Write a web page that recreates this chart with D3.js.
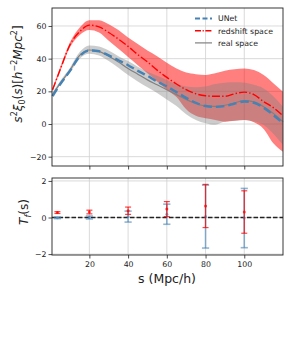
<!DOCTYPE html>
<html>
<head>
<meta charset="utf-8">
<script src="https://cdn.jsdelivr.net/npm/d3@7"></script>
<style>
  body { margin: 0; background: #fff; }
  text { font-family: "DejaVu Sans", sans-serif; fill: #222; }
  .grid line { stroke: #d0d0d0; stroke-width: 0.8; }
</style>
</head>
<body>
<div id="chart"></div>
<script>
// separation bins (Mpc/h)
const sGrid = [1, 5, 10, 15, 20, 25, 30, 35, 40, 45, 50, 55, 60, 65, 70, 75, 80, 85, 90, 95, 100, 105, 110, 115, 120];

// real space: mean and band
const realMean = [18, 25, 33, 42, 45.3, 44.5, 41.5, 38, 34, 30.5, 27, 24, 21, 18, 15, 12.5, 11, 10.8, 11.5, 13, 14.3, 13.5, 10.6, 6.5, 1.4];
const realLo = [17, 24, 31.5, 40, 43, 42, 38.5, 34.5, 30, 26, 22.5, 19, 15, 11, 6, 2.5, 0.5, -0.5, 1.5, 2, 2.4, 1.5, -0.6, -6, -12.9];
const realHi = [19.5, 26.5, 34.5, 44, 48, 47.5, 45, 41.5, 38.5, 35, 32, 29.5, 27, 24.5, 23, 22.5, 23, 24.5, 25.3, 25.5, 25.3, 24, 21.8, 17, 10.6];

// redshift space: mean and band
const zMean = [21, 33.5, 48.5, 56.5, 60.5, 59.5, 56, 52, 47.5, 42.5, 38, 33, 28.5, 24.5, 21, 18.5, 17.3, 17, 17, 18.5, 19.5, 18, 13.7, 10, 5];
const zLo = [20, 32.5, 47, 54.5, 57.5, 56, 51, 46, 41, 36, 31, 26, 21, 16.5, 9, 5, 3.5, 2.5, 1.4, 2, 2.4, 1, -3, -11.8, -17];
const zHi = [22, 35, 50, 59, 63.5, 63.5, 61, 57.5, 53, 49, 45, 41.5, 37.5, 34, 31.5, 30.5, 30, 31, 32.6, 33.5, 34, 33, 30, 25, 19.8];

// UNet prediction
const unetMean = [17, 24.5, 32.5, 41.5, 45, 44.5, 42, 39, 36, 32.5, 29.5, 26, 23, 19.5, 16, 13, 11, 10.5, 11, 12.5, 13.8, 13, 10, 5.5, 0.5];

// lower panel: T_f(s) at bins
const tS = [3.5, 20, 40, 60, 80, 100];
const tUnet = [-0.02, 0, 0.05, 0.18, 0.05, -0.03];
const tUnetErr = [0.04, 0.08, 0.3, 0.55, 1.72, 1.62];
const tZ = [0.27, 0.3, 0.37, 0.46, 0.63, 0.3];
const tZErr = [0.05, 0.1, 0.2, 0.41, 1.18, 1.16];

const xTicks = [20, 40, 60, 80, 100];
const yTicksTop = [-20, 0, 20, 40, 60];
const yTicksBot = [-2, 0, 2];

const width = 291, height = 349;
const left = 52, right = 283;
const topY0 = 8, topY1 = 166;
const botY0 = 178, botY1 = 255;

const svg = d3.select("#chart").append("svg")
    .attr("width", width).attr("height", height);
svg.append("rect").attr("width", width).attr("height", height).attr("fill", "#fff");

const x = d3.scaleLinear().domain([0.7, 120]).range([left, right]);
const yTop = d3.scaleLinear().domain([-25.7, 71]).range([topY1, topY0]);
const yBot = d3.scaleLinear().domain([-2.05, 2.16]).range([botY1, botY0]);

// grids
function grid(y, yTicks, y0, y1) {
  const g = svg.append("g").attr("class", "grid");
  g.selectAll(".gx").data(xTicks).enter().append("line")
    .attr("x1", d => x(d)).attr("x2", d => x(d)).attr("y1", y0).attr("y2", y1);
  g.selectAll(".gy").data(yTicks).enter().append("line")
    .attr("x1", left).attr("x2", right).attr("y1", d => y(d)).attr("y2", d => y(d));
}
grid(yTop, yTicksTop, topY0, topY1);
grid(yBot, yTicksBot, botY0, botY1);

// top panel
const pts = sGrid.map((s, i) => i);
const area = (lo, hi) => d3.area().curve(d3.curveMonotoneX)
    .x(i => x(sGrid[i])).y0(i => yTop(lo[i])).y1(i => yTop(hi[i]));
const line = arr => d3.line().curve(d3.curveMonotoneX)
    .x(i => x(sGrid[i])).y(i => yTop(arr[i]));

const topG = svg.append("g");
topG.append("path").attr("d", area(zLo, zHi)(pts)).attr("fill", "red").attr("fill-opacity", 0.5);
topG.append("path").attr("d", area(realLo, realHi)(pts)).attr("fill", "gray").attr("fill-opacity", 0.4);
topG.append("path").attr("d", line(zMean)(pts)).attr("fill", "none")
  .attr("stroke", "red").attr("stroke-width", 1.4).attr("stroke-dasharray", "8,2.2,1.4,2.2");
topG.append("path").attr("d", line(realMean)(pts)).attr("fill", "none")
  .attr("stroke", "gray").attr("stroke-width", 1.2);
topG.append("path").attr("d", line(unetMean)(pts)).attr("fill", "none")
  .attr("stroke", "steelblue").attr("stroke-width", 2.4).attr("stroke-dasharray", "8.5,4");

// axes
function axes(y, yTicks, y0, y1, showX) {
  const ax = svg.append("g").attr("transform", `translate(0,${y1})`)
    .call(d3.axisBottom(x).tickValues(xTicks).tickSize(3.5).tickPadding(2.5)
      .tickFormat(showX ? d3.format("d") : ""));
  const ay = svg.append("g").attr("transform", `translate(${left},0)`)
    .call(d3.axisLeft(y).tickValues(yTicks).tickSize(3.5).tickPadding(2).tickFormat(d3.format("d")));
  [ax, ay].forEach(a => {
    a.select(".domain").remove();
    a.selectAll("line").attr("stroke", "#222").attr("stroke-width", 0.8);
    a.selectAll("text").style("font-size", "7.8px").attr("fill", "#222");
  });
  svg.append("rect").attr("x", left).attr("y", y0).attr("width", right - left).attr("height", y1 - y0)
    .attr("fill", "none").attr("stroke", "#222").attr("stroke-width", 0.9);
}

// lower panel
const botG = svg.append("g");
botG.append("line").attr("x1", left).attr("x2", right).attr("y1", yBot(0)).attr("y2", yBot(0))
  .attr("stroke", "#222").attr("stroke-width", 1.3).attr("stroke-dasharray", "4.5,2");

function errbars(vals, errs, color, op, cap, lw) {
  const g = botG.append("g").attr("stroke", color).attr("stroke-opacity", op).attr("stroke-width", lw);
  tS.forEach((s, i) => {
    const cx = x(s), lo = yBot(vals[i] - errs[i]), hi = yBot(vals[i] + errs[i]);
    g.append("line").attr("x1", cx).attr("x2", cx).attr("y1", lo).attr("y2", hi);
    g.append("line").attr("x1", cx - cap).attr("x2", cx + cap).attr("y1", lo).attr("y2", lo);
    g.append("line").attr("x1", cx - cap).attr("x2", cx + cap).attr("y1", hi).attr("y2", hi);
  });
  botG.selectAll(null).data(tS).enter().append("circle")
    .attr("cx", d => x(d)).attr("cy", (d, i) => yBot(vals[i])).attr("r", 1.5)
    .attr("fill", color).attr("fill-opacity", op);
}
errbars(tUnet, tUnetErr, "steelblue", 0.6, 3.6, 1.6);
errbars(tZ, tZErr, "red", 0.75, 3, 1.2);

axes(yTop, yTicksTop, topY0, topY1, false);
axes(yBot, yTicksBot, botY0, botY1, true);

// legend
const legend = [
  { name: "UNet", color: "steelblue", dash: "5,2.5", w: 2.2 },
  { name: "redshift space", color: "red", dash: "6,1.6,1.2,1.6", w: 1.4 },
  { name: "real space", color: "gray", dash: null, w: 1.2 }
];
const lg = svg.append("g");
legend.forEach((d, i) => {
  const yy = 18.5 + i * 12.2;
  lg.append("line").attr("x1", 195).attr("x2", 212).attr("y1", yy).attr("y2", yy)
    .attr("stroke", d.color).attr("stroke-width", d.w).attr("stroke-dasharray", d.dash);
  lg.append("text").attr("x", 218).attr("y", yy + 2.8).style("font-size", "7.8px").text(d.name);
});

// axis titles
const yl = svg.append("text").attr("transform", "translate(22,74) rotate(-90)")
  .attr("text-anchor", "middle").style("font-size", "12px");
yl.append("tspan").attr("font-style", "italic").text("s");
yl.append("tspan").attr("dy", -5).style("font-size", "8px").text("2");
yl.append("tspan").attr("dy", 5).attr("font-style", "italic").text("ξ");
yl.append("tspan").attr("dy", 2.5).style("font-size", "8px").text("0");
yl.append("tspan").attr("dy", -2.5).text("(");
yl.append("tspan").attr("font-style", "italic").text("s");
yl.append("tspan").text(")[");
yl.append("tspan").attr("font-style", "italic").text("h");
yl.append("tspan").attr("dy", -5).style("font-size", "8px").text("−2");
yl.append("tspan").attr("dy", 5).attr("font-style", "italic").text("Mpc");
yl.append("tspan").attr("dy", -5).style("font-size", "8px").text("2");
yl.append("tspan").attr("dy", 5).text("]");

const tl = svg.append("text").attr("transform", "translate(28,212) rotate(-90)")
  .attr("text-anchor", "middle").style("font-size", "12px");
tl.append("tspan").attr("font-style", "italic").text("T");
tl.append("tspan").attr("dy", 2.5).attr("font-style", "italic").style("font-size", "8px").text("f");
tl.append("tspan").attr("dy", -2.5).text("(s)");

svg.append("text").attr("x", 167).attr("y", 283).attr("text-anchor", "middle")
  .style("font-size", "12.5px").text("s (Mpc/h)");
</script>
</body>
</html>
